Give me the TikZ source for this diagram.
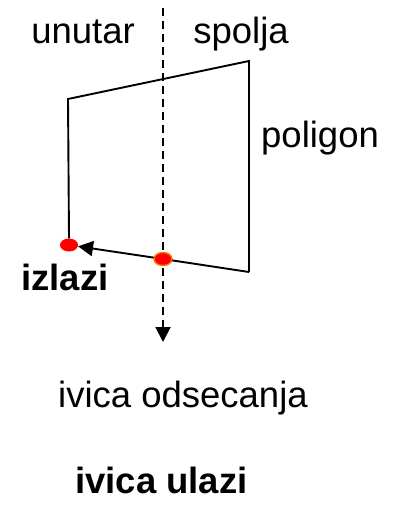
\documentclass[tikz,border=0pt]{standalone}
\usepackage{fontspec}
\setmainfont{Liberation Sans}
\usepackage{xcolor}
\definecolor{dotred}{HTML}{FF0000}
\definecolor{dotorange}{HTML}{F07800}
\usepackage{tikz}
\usetikzlibrary{arrows.meta, shapes.geometric, positioning}

\begin{document}
\begin{tikzpicture}[
  x=1pt, y=-1pt,
  label/.style={inner sep=0pt, anchor=base west, font=\fontsize{36.5}{42}\selectfont},
  dot/.style={ellipse, fill=dotred, minimum width=18pt, minimum height=13pt, inner sep=0pt},
  edge/.style={line width=1.9pt},
  >={Triangle[length=15pt, width=15pt]}
]
  \useasboundingbox (0,0) rectangle (402,506);

  % polygon corners
  \coordinate (tl) at (68,99);
  \coordinate (tr) at (249,61);
  \coordinate (br) at (249,272);

  % clipping edge
  \coordinate (clipTop) at (163,8);
  \coordinate (clipEnd) at (163,342);
  \draw[edge, dash pattern=on 8pt off 5pt, ->] (clipTop) -- (clipEnd);

  % intersection points
  \node[dot] (exit) at (69,245) {};
  \node[dot] (cross) at (163,259) {};

  \draw[edge] (exit.north) -- (tl) -- (tr) -- (br);
  \draw[edge, ->] (br) -- (cross.center) -- (exit);
  \node[dot, draw=dotorange, line width=1.4pt] at (cross) {};

  % texts
  \node[label, anchor=base] (inside) at (83,43) {unutar};
  \node[label, anchor=base] (outside) at (241,43) {spolja};
  \node[label] (poly) at (261,147) {poligon};
  \node[label, font=\fontsize{36.5}{42}\selectfont\bfseries] (exitTxt) at (21,290) {izlazi};
  \node[label] (clipTxt) at (58,407) {ivica odsecanja};
  \node[label, font=\fontsize{36.5}{42}\selectfont\bfseries] (enterTxt) at (75,493) {ivica ulazi};
\end{tikzpicture}
\end{document}
